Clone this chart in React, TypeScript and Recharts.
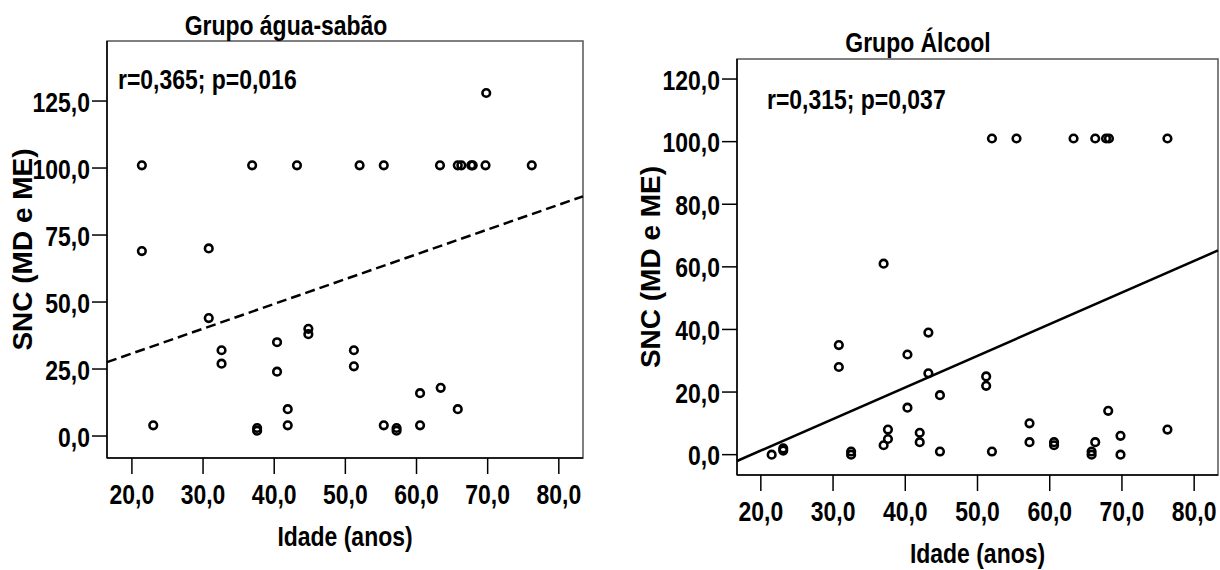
import React from "react";
import {
  ScatterChart, Scatter, XAxis, YAxis, ReferenceLine, ReferenceArea,
} from "recharts";

// Grupo água-sabão: idade (anos) x SNC
const ageAgua = [21.4, 21.4, 23.0, 30.8, 30.8, 32.6, 32.6, 36.9, 37.6, 37.6, 40.4, 40.4, 41.9, 41.9, 43.2, 44.8, 44.8, 51.2, 51.2, 52.0, 55.4, 55.4, 57.2, 57.2, 60.5, 60.5, 63.3, 63.4, 65.8, 66.3, 65.8, 67.7, 67.9, 69.7, 69.8, 76.2];
const sncAgua = [101, 69, 4, 70, 44, 32, 27, 101, 3, 2, 35, 24, 10, 4, 101, 40, 38, 32, 26, 101, 101, 4, 3, 2, 16, 4, 101, 18, 101, 101, 10, 101, 101, 101, 128, 101];

// Grupo Álcool
const ageAlcool = [21.5, 23.1, 23.1, 30.8, 30.8, 32.5, 32.5, 37.0, 37.0, 37.6, 37.6, 40.3, 40.3, 42.0, 42.0, 43.2, 43.2, 44.8, 44.8, 51.2, 51.2, 52.0, 52.0, 55.4, 57.2, 57.2, 60.6, 60.6, 63.3, 65.8, 65.8, 66.3, 66.3, 67.8, 68.2, 68.1, 69.8, 69.8, 76.3, 76.3];
const sncAlcool = [0, 2, 1.3, 35, 28, 1, 0, 61, 3, 8, 5, 32, 15, 7, 4, 39, 26, 19, 1, 25, 22, 101, 1, 101, 10, 4, 4, 3, 101, 1, 0, 101, 4, 101, 101, 14, 6, 0, 101, 8];

const xTicks = [20, 30, 40, 50, 60, 70, 80];
const yTicksAgua = [0, 25, 50, 75, 100, 125];
const yTicksAlcool = [0, 20, 40, 60, 80, 100, 120];

// linha de regressão (inclinação, intercepto)
const regAgua = { slope: 0.925, intercept: 12.3 };
const regAlcool = { slope: 1.01, intercept: -18.9 };

const FONT = "'Liberation Sans', Arial, sans-serif";
const SQUEEZE = 0.82; // imita Arial Narrow

const fmt = (v: number) => v.toFixed(1).replace(".", ",");
const toPoints = (xs: number[], ys: number[]) => xs.map((x, i) => ({ x, y: ys[i] }));

// texto em negrito "estreito"
const NText = ({ x, y, size, anchor = "start", dy, children }: any) => (
  <g transform={`translate(${x},${y}) scale(${SQUEEZE},1)`}>
    <text x={0} y={0} dy={dy} textAnchor={anchor} fontFamily={FONT} fontWeight="bold" fontSize={size} fill="#000">
      {children}
    </text>
  </g>
);

const XTick = ({ x, y, payload }: any) => (
  <NText x={x} y={y} size={28} anchor="middle" dy="0.71em">{fmt(payload.value)}</NText>
);
const YTick = ({ x, y, payload }: any) => (
  <NText x={x} y={y} size={28} anchor="end" dy="0.38em">{fmt(payload.value)}</NText>
);

const Ring = (p: any) => (
  <circle cx={p.cx} cy={p.cy} r={3.8} fill="none" stroke="#000" strokeWidth={2.6} />
);

const YTitle = ({ viewBox, value, dx }: any) => {
  const cx = viewBox.x + dx;
  const cy = viewBox.y + viewBox.height / 2;
  return (
    <text x={cx} y={cy} transform={`rotate(-90 ${cx} ${cy})`} textAnchor="middle"
      dominantBaseline="central" fontFamily={FONT} fontWeight="bold" fontSize={28} fill="#000">
      {value}
    </text>
  );
};

const XTitle = ({ viewBox, value }: any) => (
  <NText x={viewBox.x + viewBox.width / 2} y={viewBox.y + 88} size={28} anchor="middle">{value}</NText>
);

type PanelProps = {
  xs: number[]; ys: number[]; yTicks: number[];
  xDomain: [number, number]; yDomain: [number, number];
  reg: { slope: number; intercept: number };
  dashed: boolean; margin: any; yWidth: number; xHeight: number; yLabelDx: number;
};

function Panel({ xs, ys, yTicks, xDomain, yDomain, reg, dashed, margin, yWidth, xHeight, yLabelDx }: PanelProps) {
  const data = toPoints(xs, ys);
  const seg = xDomain.map((x) => ({ x, y: reg.intercept + reg.slope * x }));
  return (
    <ScatterChart width={610} height={570} margin={margin}>
      <XAxis type="number" dataKey="x" domain={xDomain} ticks={xTicks} allowDataOverflow
        tick={<XTick />} tickSize={16} tickMargin={10}
        stroke="#000" strokeWidth={1.5} height={xHeight}
        label={<XTitle value="Idade (anos)" />} />
      <YAxis type="number" dataKey="y" domain={yDomain} ticks={yTicks} allowDataOverflow
        tick={<YTick />} tickSize={15} tickMargin={2}
        stroke="#000" strokeWidth={1.5} width={yWidth}
        label={<YTitle value="SNC (MD e ME)" dx={yLabelDx} />} />
      <ReferenceArea x1={xDomain[0]} x2={xDomain[1]} y1={yDomain[0]} y2={yDomain[1]}
        fill="none" stroke="#555" strokeWidth={1.5} ifOverflow="visible" />
      <ReferenceLine segment={seg} ifOverflow="visible" stroke="#000" strokeWidth={2.5}
        strokeDasharray={dashed ? "10 5" : undefined} />
      <Scatter data={data} shape={Ring} isAnimationActive={false} />
    </ScatterChart>
  );
}

export default function App() {
  return (
    <div style={{ position: "absolute", left: 0, top: 0, width: 1220, height: 570, background: "#fff" }}>
      <div style={{ position: "absolute", left: 0, top: 0 }}>
        <Panel xs={ageAgua} ys={sncAgua} yTicks={yTicksAgua} xDomain={[16.5, 83.4]} yDomain={[-8.2, 147.4]}
          reg={regAgua} dashed margin={{ top: 41, right: 27, bottom: 32, left: 0 }}
          yWidth={107} xHeight={80} yLabelDx={22} />
      </div>
      <div style={{ position: "absolute", left: 610, top: 0 }}>
        <Panel xs={ageAlcool} ys={sncAlcool} yTicks={yTicksAlcool} xDomain={[16.7, 83.3]} yDomain={[-6.5, 126.4]}
          reg={regAlcool} dashed={false} margin={{ top: 59, right: 2, bottom: 15, left: 0 }}
          yWidth={127} xHeight={80} yLabelDx={40} />
      </div>
      <svg width={1220} height={570} style={{ position: "absolute", left: 0, top: 0, pointerEvents: "none" }}>
        <NText x={286} y={35} size={28} anchor="middle">Grupo água-sabão</NText>
        <NText x={118} y={89} size={28}>r=0,365; p=0,016</NText>
        <NText x={918} y={52} size={28} anchor="middle">Grupo Álcool</NText>
        <NText x={767} y={109} size={28}>r=0,315; p=0,037</NText>
      </svg>
    </div>
  );
}
